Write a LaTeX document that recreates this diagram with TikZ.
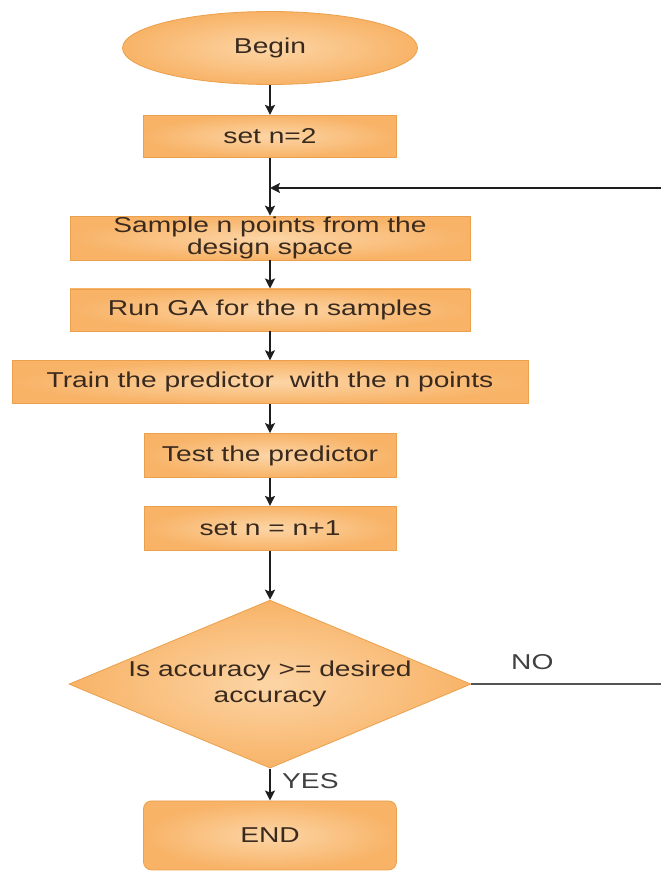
\documentclass[tikz,border=0pt]{standalone}
\usepackage{fontspec}
\setmainfont{Liberation Sans}[FakeStretch=1.31]
\usepackage{xcolor}
\usepackage{tikz}
\usetikzlibrary{positioning,arrows.meta,shapes.geometric,calc}
\definecolor{ink}{HTML}{3A2A1E}
\definecolor{fillin}{HTML}{FCD5A6}
\definecolor{fillout}{HTML}{F8B367}
\definecolor{edgeor}{HTML}{EAA04C}
\definecolor{wire}{HTML}{1E1E1E}
\definecolor{noline}{HTML}{555555}

\begin{document}
\begin{tikzpicture}[
  x=1pt,y=-1pt,
  font=\fontsize{21.5}{22}\selectfont,
  text=ink,
  blk/.style={draw=edgeor,line width=0.8pt,inner color=fillin,outer color=fillout,align=center,inner sep=0pt},
  proc/.style={blk,rectangle,minimum height=42pt},
  term/.style={blk,ellipse,minimum width=295pt,minimum height=73pt},
  dec/.style={blk,diamond,aspect=2.4,minimum width=402pt,minimum height=168pt,font=\fontsize{21.5}{26}\selectfont},
  fin/.style={blk,rectangle,rounded corners=8pt,minimum width=253pt,minimum height=69pt},
  a/.style={-{Stealth[length=10pt,width=10pt,inset=2pt]},line width=1.6pt,wire},
  lbl/.style={text=black!75,inner sep=0pt}
]
\useasboundingbox (0,0) rectangle (661,874);
\node[term] (begin) at (270,48) {Begin};
\node[proc,minimum width=253pt,below=30pt of begin] (setn) {set n=2};
\node[proc,minimum width=400pt,minimum height=44pt,below=58pt of setn] (sample) {Sample n points from the\\design space};
\node[proc,minimum width=400pt,below=28pt of sample] (runga) {Run GA for the n samples};
\node[proc,minimum width=516pt,minimum height=43pt,below=29pt of runga] (train) {Train the predictor~ with the n points};
\node[proc,minimum width=252pt,minimum height=44pt,below=29pt of train] (test) {Test the predictor};
\node[proc,minimum width=252pt,minimum height=44pt,below=28pt of test] (incr) {set n = n+1};
\node[dec,below=49pt of incr] (acc) {Is accuracy >= desired\\accuracy};
\node[fin,below=32pt of acc] (stop) {END};
\coordinate (ret) at (661,188);
\coordinate (join) at (setn.south |- ret);
\coordinate (noend) at (acc.east -| ret);
\draw[a] (begin)--(setn); \draw[a] (setn)--(sample); \draw[a] (sample)--(runga);
\draw[a] (runga)--(train); \draw[a] (train)--(test); \draw[a] (test)--(incr);
\draw[a] (incr)--(acc); \draw[a] (acc)--(stop);
\draw[a] (ret)--(join);
\draw[noline,line width=1.4pt] (acc.east)--(noend);
\node[lbl,anchor=west] (no) at (511,662) {NO};
\node[lbl,anchor=west] (yes) at (282,781) {YES};
\end{tikzpicture}
\end{document}
